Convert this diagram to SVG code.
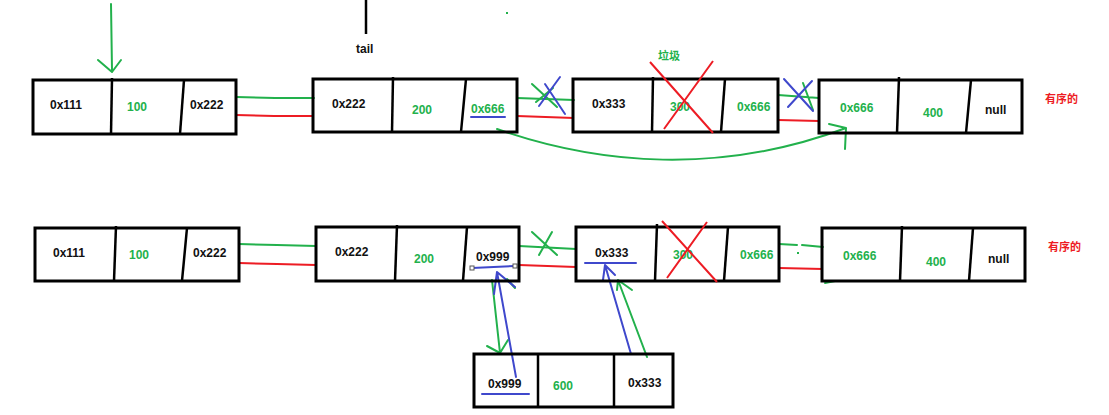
<svg xmlns="http://www.w3.org/2000/svg" width="1109" height="415" viewBox="0 0 1109 415">
<style>
.box{fill:none;stroke:#000;stroke-width:3}
.dv{stroke:#000;stroke-width:2.5}
.t{font-family:"Liberation Sans",Arial,sans-serif;font-weight:bold;font-size:12px;fill:#111}
.g{fill:#22b14c}
.cn{font-family:"Noto Sans CJK SC","Liberation Sans",sans-serif;font-weight:bold;font-size:11px}
.lg{stroke:#22b14c;stroke-width:2;fill:none;stroke-linecap:round;stroke-linejoin:round}
.lr{stroke:#ed1c24;stroke-width:2;fill:none}
.lb{stroke:#3f48cc;stroke-width:2;fill:none;stroke-linecap:round;stroke-linejoin:round}
.lk{stroke:#000;stroke-width:2.5;fill:none}
</style>
<rect width="1109" height="415" fill="#fff"/>

<g id="connectors">
  <!-- head pointer -->
  <path class="lg" d="M111,4 L112,70 M98,60 L112,72 L121,60"/>
  <!-- tail pointer -->
  <line class="lk" x1="366" y1="0" x2="366" y2="34"/>
  <rect x="506" y="12" width="2" height="2" fill="#22b14c"/>
  <!-- top row links -->
  <path class="lg" d="M236,97 L275,98 L314,98"/>
  <path class="lr" d="M236,115 L274,116 L313,116"/>
  <path class="lg" d="M517,98 L574,100"/>
  <path class="lr" d="M517,116 L574,118"/>
  <path class="lg" d="M532,84 L557,107 M536,102 L553,88"/>
  <path class="lb" d="M560,77 L539,106 M545,84 L565,114"/>
  <path class="lg" d="M778,95 L819,98 M803,83 L813,110"/>
  <path class="lr" d="M778,120 L819,121"/>
  <path class="lb" d="M784,79 L813,111 M812,81 L788,107"/>
  <!-- big curve -->
  <path class="lg" d="M497,129 C600,165 720,175 846,128 M829,124 L846,128 L845,149"/>
  <!-- bottom row links -->
  <path class="lg" d="M239,244 L277,245 L316,246"/>
  <path class="lr" d="M239,263 L277,264 L316,265"/>
  <path class="lg" d="M519,246 L576,249"/>
  <path class="lr" d="M519,265 L576,267"/>
  <path class="lg" d="M532,232 L557,255 M552,232 L539,255"/>
  <path class="lg" d="M779,244 L797,245 M802,245 L823,247"/>
  <rect x="797" y="252" width="2" height="2" fill="#22b14c"/>
  <path class="lr" d="M779,268 L823,269"/>
  <path class="lg" d="M825,283 L835,281 M840,281 L849,281"/>
  <!-- new node arrows -->
  <path class="lg" d="M492,280 L500,353 M487,346 L500,353 L508,340"/>
  <path class="lg" d="M507,279 L515,288"/>
  <path class="lb" d="M516,377 L497,272 M494,294 L497,272 L515,287"/>
  <path class="lb" d="M631,354 L605,265 M603,280 L605,265 L615,275"/>
  <path class="lg" d="M647,357 L618,280 M617,290 L618,280 L632,290"/>
  <!-- underlines -->
  <line class="lb" x1="471" y1="117" x2="505" y2="117"/>
  <line class="lb" x1="472" y1="268" x2="515" y2="266"/>
  <rect x="470" y="266" width="4" height="4" fill="#fff" stroke="#555" stroke-width="1"/>
  <rect x="513" y="264" width="4" height="4" fill="#fff" stroke="#555" stroke-width="1"/>
  <line class="lb" x1="585" y1="263" x2="636" y2="263"/>
  <line class="lb" x1="482" y1="394" x2="529" y2="394"/>
</g>

<g id="n1">
  <rect class="box" x="33" y="80" width="203" height="54"/>
  <line class="dv" x1="112" y1="78" x2="111" y2="134"/>
  <line class="dv" x1="184" y1="80" x2="180" y2="134"/>
  <text class="t" x="50" y="109">0x111</text>
  <text class="t g" x="127" y="111">100</text>
  <text class="t" x="190" y="109">0x222</text>
</g>
<g id="n2">
  <rect class="box" x="313" y="79" width="204" height="53"/>
  <line class="dv" x1="393" y1="77" x2="392" y2="132"/>
  <line class="dv" x1="466" y1="79" x2="461" y2="132"/>
  <text class="t" x="332" y="108">0x222</text>
  <text class="t g" x="412" y="114">200</text>
  <text class="t g" x="471" y="113">0x666</text>
  <text class="t" x="356" y="53">tail</text>
</g>
<g id="n3">
  <rect class="box" x="573" y="79" width="205" height="53"/>
  <line class="dv" x1="653" y1="77" x2="652" y2="132"/>
  <line class="dv" x1="725" y1="79" x2="721" y2="132"/>
  <text class="t" x="592" y="108">0x333</text>
  <text class="t g" x="670" y="111">300</text>
  <text class="t g" x="737" y="111">0x666</text>
  <path class="lr" d="M650,62 L713,133 M713,61 L664,129"/>
  <text class="cn g" x="658" y="60">垃圾</text>
</g>
<g id="n4">
  <rect class="box" x="819" y="80" width="203" height="53"/>
  <line class="dv" x1="899" y1="77" x2="897" y2="133"/>
  <line class="dv" x1="971" y1="80" x2="966" y2="133"/>
  <text class="t g" x="840" y="112">0x666</text>
  <text class="t g" x="923" y="117">400</text>
  <text class="t" x="985" y="114">null</text>
  <text class="cn" x="1045" y="103" fill="#ed1c24">有序的</text>
</g>

<g id="b1">
  <rect class="box" x="35" y="228" width="204" height="53"/>
  <line class="dv" x1="116" y1="226" x2="114" y2="281"/>
  <line class="dv" x1="187" y1="228" x2="182" y2="281"/>
  <text class="t" x="53" y="257">0x111</text>
  <text class="t g" x="129" y="259">100</text>
  <text class="t" x="193" y="257">0x222</text>
</g>
<g id="b2">
  <rect class="box" x="316" y="227" width="203" height="54"/>
  <line class="dv" x1="397" y1="225" x2="395" y2="281"/>
  <line class="dv" x1="467" y1="227" x2="463" y2="281"/>
  <text class="t" x="335" y="256">0x222</text>
  <text class="t g" x="414" y="263">200</text>
  <text class="t" x="476" y="261">0x999</text>
</g>
<g id="b3">
  <rect class="box" x="576" y="227" width="203" height="54"/>
  <line class="dv" x1="657" y1="224" x2="655" y2="281"/>
  <line class="dv" x1="728" y1="227" x2="724" y2="281"/>
  <text class="t" x="595" y="257">0x333</text>
  <text class="t g" x="673" y="259">300</text>
  <text class="t g" x="740" y="259">0x666</text>
  <path class="lr" d="M662,221 L717,282 M707,222 L667,278"/>
</g>
<g id="b4">
  <rect class="box" x="822" y="228" width="203" height="53"/>
  <line class="dv" x1="902" y1="226" x2="900" y2="281"/>
  <line class="dv" x1="973" y1="228" x2="969" y2="281"/>
  <text class="t g" x="843" y="260">0x666</text>
  <text class="t g" x="926" y="266">400</text>
  <text class="t" x="988" y="263">null</text>
  <text class="cn" x="1048" y="251" fill="#ed1c24">有序的</text>
</g>
<g id="b5">
  <rect class="box" x="474" y="354" width="199" height="53"/>
  <line class="dv" x1="538" y1="354" x2="538" y2="407"/>
  <line class="dv" x1="614" y1="354" x2="614" y2="407"/>
  <text class="t" x="488" y="388">0x999</text>
  <text class="t g" x="553" y="390">600</text>
  <text class="t" x="628" y="387">0x333</text>
</g>
</svg>
